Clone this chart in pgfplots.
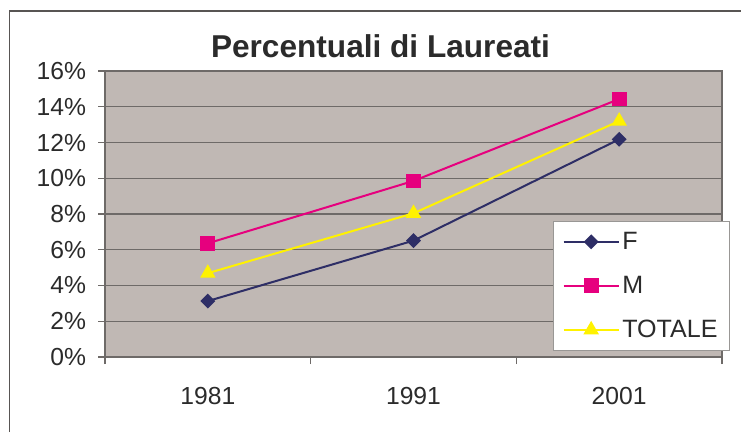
\documentclass[border=0pt]{standalone}
\usepackage{pgfplots}
\pgfplotsset{compat=1.18}
\usepackage{fontspec}
\setmainfont{Liberation Sans}

\definecolor{plotbg}{HTML}{C0B8B4}
\definecolor{gridc}{HTML}{6E6A68}
\definecolor{fcol}{HTML}{2E2E66}
\definecolor{mcol}{HTML}{E6007E}
\definecolor{tcol}{HTML}{FFF200}
\definecolor{txt}{HTML}{2B2B2B}

\begin{document}
\begin{tikzpicture}[x=0.75pt,y=0.75pt]
\path[use as bounding box] (0,0) rectangle (741,432);
\fill[white] (0,0) rectangle (741,432);
% outer chart frame (cut by the image edge)
\draw[gridc!80!black, line width=1pt] (9.5,0) -- (9.5,421) -- (741,421);

\begin{axis}[
    at={(78.75pt,56.25pt)}, anchor=south west,
    scale only axis,
    width=462.75pt, height=214.5pt,
    xmin=-0.5, xmax=2.5,
    ymin=0, ymax=16,
    axis background/.style={fill=plotbg},
    axis line style={gridc, line width=1pt},
    xtick={0,1,2},
    xticklabels={1981,1991,2001},
    minor xtick={-0.5,0.5,1.5,2.5},
    major x tick style={draw=none},
    minor tick length=5.25pt,
    major tick length=5.25pt,
    tick align=outside,
    xtick pos=bottom, ytick pos=left,
    tick style={gridc, line width=1pt},
    ytick={0,2,...,16},
    yticklabel={\pgfmathprintnumber[assume math mode=true]{\tick}\%},
    ymajorgrids=true,
    grid style={gridc, line width=1.1pt},
    ticklabel style={font=\fontsize{18.5}{20}\selectfont, text=txt},
    xticklabel style={yshift=-14pt},
    yticklabel style={xshift=-5.5pt},
    legend style={
        at={(1.013,0.4755)}, anchor=north east,
        draw=gridc!70, fill=white, line width=0.8pt,
        font=\fontsize{18.8}{20}\selectfont, text=txt,
        row sep=14.5pt, inner xsep=7pt, inner ysep=6pt,
        nodes={inner sep=2pt},
    },
    legend cell align=left,
    legend image code/.code={
        \draw[mark repeat=2, mark phase=2] plot coordinates {(0pt,0pt) (20.6pt,0pt) (41.2pt,0pt)};
    },
]
\addplot[fcol, line width=1.5pt, mark=square*, mark size=3.2pt, mark options={rotate=45, fill=fcol}]
    coordinates {(0,3.13) (1,6.51) (2,12.18)};
\addlegendentry{F}
\addplot[mcol, line width=1.5pt, mark=square*, mark size=4.8pt, mark options={fill=mcol}]
    coordinates {(0,6.36) (1,9.85) (2,14.43)};
\addlegendentry{M}
\addplot[tcol, line width=1.5pt, mark=triangle*, mark size=5.2pt, mark options={fill=tcol}]
    coordinates {(0,4.69) (1,8.04) (2,13.2)};
\addlegendentry{TOTALE}
\end{axis}

\node[anchor=base, font=\bfseries\fontsize{23.7}{26}\selectfont, text=txt] at (380.5,374) {Percentuali di Laureati};
\end{tikzpicture}
\end{document}
